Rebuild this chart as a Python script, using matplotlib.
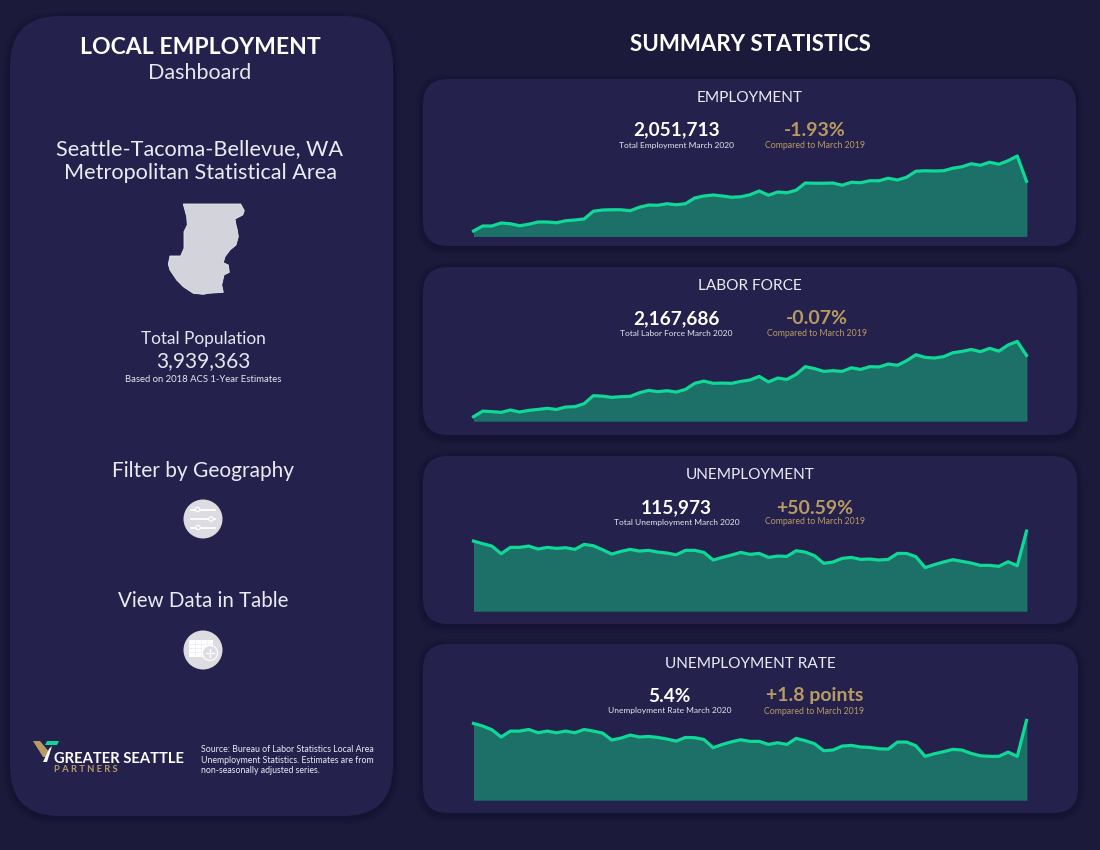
#!/usr/bin/env python3
# -*- coding: utf-8 -*-

import matplotlib
matplotlib.use("Agg")
import matplotlib.pyplot as plt
from matplotlib.patches import Circle, FancyBboxPatch, Polygon, Rectangle

# ====== DATA (thousands, rate in %), monthly March 2015 - March 2020 ======
employment = [
    1853, 1873, 1873, 1885, 1882, 1874, 1880, 1889, 1889, 1886, 1894, 1897, 1901,
    1932, 1937, 1938, 1938, 1934, 1948, 1957, 1956, 1962, 1958, 1962, 1985, 1993,
    1997, 1993, 1988, 1990, 1998, 2013, 1996, 2009, 2006, 2016, 2045, 2044, 2044,
    2045, 2036, 2048, 2046, 2054, 2054, 2064, 2057, 2068, 2092, 2094, 2093, 2094,
    2104, 2110, 2122, 2116, 2128, 2120, 2134, 2153, 2051.7,
]
labor_force = [
    1946.9, 1967, 1965, 1962.5, 1971, 1963.7, 1969.7, 1973, 1977, 1973, 1981.7, 1983, 1993.7,
    2022.5, 2021, 2016.5, 2019, 2020, 2033, 2041.7, 2037, 2040.5, 2035.7, 2045, 2067, 2075,
    2067, 2068, 2067, 2074, 2079, 2092, 2072, 2086, 2081, 2099, 2127, 2120, 2110,
    2112.5, 2110, 2123, 2117, 2127, 2126, 2136.5, 2132, 2148.5, 2170, 2160.5, 2158, 2163,
    2177, 2182, 2189, 2181, 2193, 2183, 2205, 2218, 2167.7,
]
unemployment = [
    100.8, 96.8, 93.2, 81.6, 91.2, 91.2, 93.2, 88.7, 91.2, 89.7, 90.7, 88.2, 95.8,
    93.7, 87.7, 81.1, 85.1, 88.2, 85.6, 86.7, 84.1, 82.6, 80, 86.7, 86.7, 83.6,
    72, 76, 79.6, 83.6, 80.6, 82.1, 76, 78, 77.5, 86.1, 84.1, 78.6, 67,
    69, 74.5, 76, 73, 73.5, 72, 73, 82, 82, 77, 60.5, 65, 69,
    72.5, 70, 67.4, 63.9, 63.9, 62.4, 69.4, 63.4, 115.97,
]
unemployment_rate = [
    5.18, 4.99, 4.72, 4.19, 4.62, 4.62, 4.74, 4.5, 4.62, 4.5, 4.62, 4.5, 4.74,
    4.62, 4.48, 3.97, 4.11, 4.33, 4.19, 4.23, 4.16, 4.04, 3.89, 4.16, 4.14, 4.01,
    3.41, 3.65, 3.84, 3.99, 3.87, 3.87, 3.65, 3.77, 3.65, 4.09, 3.92, 3.7, 3.19,
    3.24, 3.53, 3.58, 3.46, 3.43, 3.33, 3.31, 3.82, 3.82, 3.55, 2.78, 2.97, 3.12,
    3.29, 3.24, 2.99, 2.82, 2.78, 2.78, 3.09, 2.78, 5.4,
]
titles = ["EMPLOYMENT", "LABOR FORCE", "UNEMPLOYMENT", "UNEMPLOYMENT RATE"]
big_numbers = ["2,051,713", "2,167,686", "115,973", "5.4%"]
big_labels = ["Total Employment March 2020", "Total Labor Force March 2020",
              "Total Unemployment March 2020", "Unemployment Rate March 2020"]
changes = ["-1.93%", "-0.07%", "+50.59%", "+1.8 points"]
change_label = "Compared to March 2019"

# ====== STYLE ======
BG = "#1b1a3a"
PANEL = "#24224c"
SHADOW = "#141330"
GREEN = "#10d896"
FILL = "#1c7068"
GOLD = "#b89b63"
WHITE = "#ffffff"
FONT = "Lato"

plt.rcParams["font.family"] = [FONT, "DejaVu Sans"]

# panel box (left, top, right, bottom), chart baseline, number centres, text rows, axis limits
PANELS = [
    dict(box=(423, 79, 1076, 246), base=236.0, num_x=676.5, chg_x=815, title_y=98, num_y=130, lab_y=145, ylim=(1833, 2233)),
    dict(box=(423, 267, 1077, 435), base=420.7, num_x=676.5, chg_x=817, title_y=286, num_y=319, lab_y=333, ylim=(1932.5, 2292.5)),
    dict(box=(423, 456, 1077, 624), base=610.7, num_x=676.5, chg_x=815, title_y=475, num_y=508, lab_y=522, ylim=(-4.9, 146.9)),
    dict(box=(423, 644, 1078, 813), base=799.7, num_x=669.5, chg_x=814.5, title_y=664, num_y=696, lab_y=711, ylim=(-0.38, 6.91)),
]
CHART_LEFT = 473.5
CHART_RIGHT = 1026.5
CHART_H = 100.0

# outline of the metro area on the page, pixels
MAP_SHAPE = [
    (183.3, 204), (240.7, 204), (244.3, 210.7), (242.7, 215), (235, 219), (236, 225), (237.3, 230),
    (238.3, 236.7), (236, 245), (230, 250), (225, 256.7), (223.3, 262.7), (228.3, 265), (229.3, 272.3),
    (224, 275), (221.7, 285), (223.3, 292.3), (208.3, 293.3), (203.3, 294.3), (193.3, 293.3), (188.3, 290),
    (183.3, 286.7), (176.7, 280), (170, 270), (168.3, 264.3), (170, 256), (180.7, 256), (184, 248.3),
    (184, 231.7), (187.3, 225), (186.7, 216.7),
]


def rounded(ax, x0, y0, x1, y1, rad, color, zorder):
    ax.add_patch(FancyBboxPatch((x0 + rad, y0 + rad), x1 - x0 - 2 * rad, y1 - y0 - 2 * rad,
                                boxstyle=f"round,pad={rad},rounding_size={rad}",
                                facecolor=color, edgecolor="none", zorder=zorder))


def card(ax, x0, y0, x1, y1, rad):
    # soft shadow from a few stacked shapes
    for grow, alpha in [(7, 0.15), (5, 0.25), (3, 0.35), (1, 0.5)]:
        p = FancyBboxPatch((x0 + rad, y0 + rad + 2), x1 - x0 - 2 * rad, y1 - y0 - 2 * rad,
                           boxstyle=f"round,pad={rad + grow},rounding_size={rad + grow}",
                           facecolor=SHADOW, edgecolor="none", alpha=alpha, zorder=1)
        ax.add_patch(p)
    rounded(ax, x0, y0, x1, y1, rad, PANEL, 2)


def label(ax, x, y, s, size, color=WHITE, weight="normal", ha="center", **kw):
    ax.text(x, y, s, fontsize=size, color=color, fontweight=weight, ha=ha, va="center", zorder=5, **kw)


def draw_left(ax):
    card(ax, 10, 16, 393, 816, 50)
    label(ax, 200, 47, "LOCAL EMPLOYMENT", 16.6, weight="bold")
    label(ax, 200, 73, "Dashboard", 15.5, color="#e6e6f0")
    label(ax, 200, 149, "Seattle-Tacoma-Bellevue, WA", 15.6, color="#ecebf5")
    label(ax, 200, 173, "Metropolitan Statistical Area", 15.6, color="#ecebf5")
    ax.add_patch(Polygon(MAP_SHAPE, closed=True, facecolor="#d3d3db", edgecolor="#e8e8ee", linewidth=0.6, zorder=4))
    label(ax, 203, 339, "Total Population", 12.4, color="#e6e6f0")
    label(ax, 203, 361, "3,939,363", 15, color="#e6e6f0")
    label(ax, 203, 379, "Based on 2018 ACS 1-Year Estimates", 6.8, color="#e6e6f0")
    label(ax, 203, 471, "Filter by Geography", 15, color="#ecebf5")
    label(ax, 203, 601, "View Data in Table", 14.8, color="#ecebf5")
    draw_filter_icon(ax, 203, 519)
    draw_table_icon(ax, 203, 650)
    draw_logo(ax)
    for i, s in enumerate(["Source: Bureau of Labor Statistics Local Area",
                           "Unemployment Statistics. Estimates are from",
                           "non-seasonally adjusted series."]):
        label(ax, 201, 750 + i * 10.3, s, 6.3, color="#ecebf5", ha="left")


def draw_filter_icon(ax, cx, cy):
    ax.add_patch(Circle((cx, cy), 19.5, facecolor="#dcdce2", edgecolor="none", zorder=4))
    for dy, knob in [(-9.5, -5.5), (0, 8), (8.5, -5)]:
        ax.plot([cx - 12, cx + 12], [cy + dy, cy + dy], color=WHITE, lw=1.3, zorder=5)
        ax.add_patch(Circle((cx + knob, cy + dy), 2.2, facecolor="#dcdce2", edgecolor=WHITE, linewidth=0.9, zorder=6))


def draw_table_icon(ax, cx, cy):
    ax.add_patch(Circle((cx, cy), 19.5, facecolor="#dcdce2", edgecolor="none", zorder=4))
    ax.add_patch(Rectangle((cx - 14, cy - 10), 24, 17, facecolor=WHITE, edgecolor="none", zorder=5))
    for dx in (6, 12, 18):
        ax.plot([cx - 14 + dx] * 2, [cy - 10, cy + 7], color="#ececf0", lw=0.5, zorder=6)
    for dy in (4, 8, 12):
        ax.plot([cx - 14, cx + 10], [cy - 10 + dy] * 2, color="#ececf0", lw=0.5, zorder=6)
    ax.add_patch(Circle((cx + 7, cy + 3), 7.5, facecolor="#dcdce2", edgecolor=WHITE, linewidth=0.9, zorder=7))
    ax.plot([cx + 3, cx + 11], [cy + 3, cy + 3], color=WHITE, lw=0.9, zorder=8)
    ax.plot([cx + 7, cx + 7], [cy - 1, cy + 7], color=WHITE, lw=0.9, zorder=8)


def draw_logo(ax):
    ax.add_patch(Polygon([(33, 741), (40, 741), (50, 753), (48, 757), (43, 757)], facecolor=GOLD, edgecolor="none", zorder=5))
    ax.add_patch(Polygon([(47, 741), (59, 741), (57, 745), (45, 745)], facecolor=GREEN, edgecolor="none", zorder=5))
    ax.add_patch(Polygon([(49, 749), (52, 746), (47, 762), (43, 762)], facecolor=WHITE, edgecolor="none", zorder=5))
    label(ax, 54, 759, "GREATER SEATTLE", 10.6, weight="bold", ha="left")
    label(ax, 54, 770, "P A R T N E R S", 6.8, color=GOLD, weight="bold", ha="left")


def draw_chart(fig, values, p):
    left = CHART_LEFT / 1100
    width = (CHART_RIGHT - CHART_LEFT) / 1100
    bottom = 1 - p["base"] / 850
    ax = fig.add_axes([left, bottom, width, CHART_H / 850], zorder=3)
    ax.patch.set_alpha(0)
    months = range(len(values))
    ax.fill_between(months, p["ylim"][0], values, facecolor=FILL, edgecolor="#1c7a6c", linewidth=0.5)
    ax.plot(months, values, color=GREEN, lw=2.3, solid_joinstyle="round", clip_on=False)
    ax.set_xlim(0, len(values) - 1)
    ax.set_ylim(*p["ylim"])
    ax.axis("off")


def main():
    fig = plt.figure(figsize=(11, 8.5), dpi=100, facecolor=BG)
    page = fig.add_axes([0, 0, 1, 1], zorder=1)
    page.set_xlim(0, 1100)
    page.set_ylim(850, 0)
    page.axis("off")

    draw_left(page)
    label(page, 750, 44, "SUMMARY STATISTICS", 16, weight="bold")

    series = [employment, labor_force, unemployment, unemployment_rate]
    for i, p in enumerate(PANELS):
        x0, y0, x1, y1 = p["box"]
        card(page, x0, y0, x1, y1, 25)
        label(page, 750, p["title_y"], titles[i], 11.1, color="#ecebf5")
        label(page, p["num_x"], p["num_y"], big_numbers[i], 13.7, weight="bold")
        label(page, p["num_x"], p["lab_y"], big_labels[i], 6.0, color="#e6e6f0")
        label(page, p["chg_x"], p["num_y"], changes[i], 14, color=GOLD, weight="bold")
        label(page, p["chg_x"], p["lab_y"], change_label, 6.3, color=GOLD)
        draw_chart(fig, series[i], p)

    fig.savefig("out.png", dpi=100, facecolor=BG)


if __name__ == "__main__":
    main()
